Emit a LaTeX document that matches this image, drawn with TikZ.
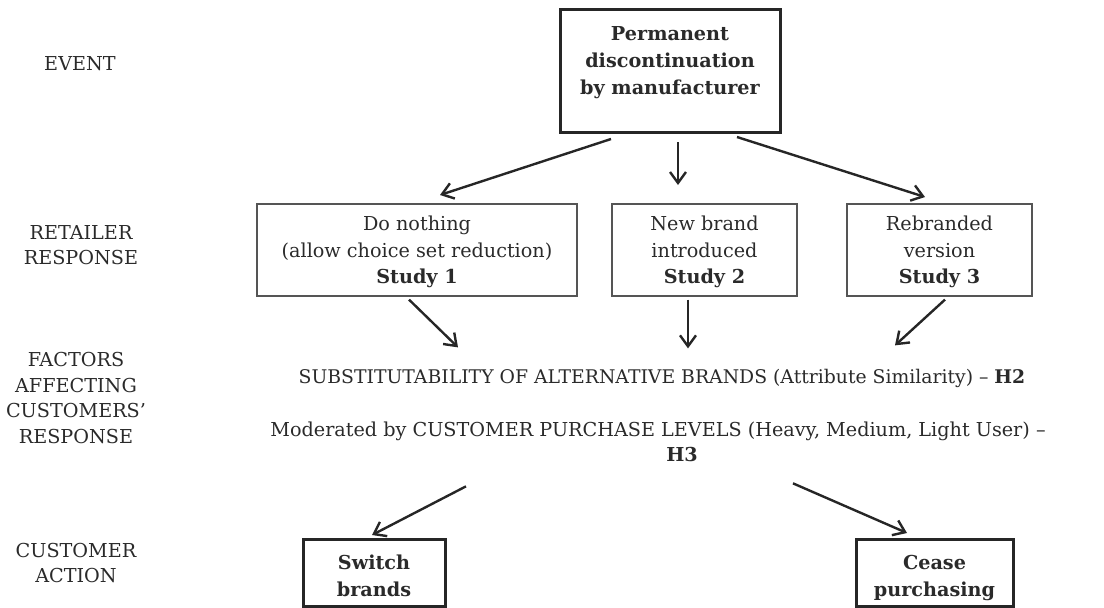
\documentclass[tikz,border=0pt]{standalone}
\usepackage{fontspec}
\setmainfont{DejaVu Serif}
\usetikzlibrary{arrows.meta,calc}
\definecolor{ink}{HTML}{2A2A2A}
\definecolor{framegray}{HTML}{555555}
\newcommand{\gapup}[1]{\rule{0pt}{#1}}
\newcommand{\gapdown}[1]{\rule[-#1]{0pt}{#1}}

\begin{document}
\begin{tikzpicture}[x=0.5pt,y=-0.5pt,
  txt/.style={text=ink,align=center,inner sep=0pt,font=\fontsize{9.6}{12.8}\selectfont},
  thickbox/.style={txt,draw=black!85,line width=1.5pt,font=\bfseries\fontsize{9.6}{13.5}\selectfont},
  thinbox/.style={txt,draw=framegray,line width=0.8pt,minimum width=92.5pt,font=\fontsize{9.6}{13.25}\selectfont},
  arr/.style={draw=black!85,line width=1.2pt,-{Straight Barb[length=5.5pt,width=8pt,line width=1.2pt]}}]
\useasboundingbox (0,0) rectangle (1104,607);

\node[txt] (lev) at (80,64) {EVENT};
\node[txt] (lret) at (81,245) {RETAILER\\RESPONSE};
\node[txt] (lfac) at (76,398) {FACTORS\\AFFECTING\\CUSTOMERS'\\RESPONSE};
\node[txt] (lact) at (76,563) {CUSTOMER\\ACTION};

\node[thickbox,anchor=north,minimum width=110pt] (event) at (670,8)
  {\gapup{15.5pt}Permanent\\discontinuation\\by manufacturer\gapdown{19pt}};

\node[thinbox,anchor=north,minimum width=160pt] (do) at (417,203)
  {\gapup{13.5pt}Do nothing\\(allow choice set reduction)\\\textbf{Study 1}\gapdown{6pt}};
\node[thinbox,anchor=north] (nb) at (704.5,203)
  {\gapup{13.5pt}New brand\\introduced\\\textbf{Study 2}\gapdown{6pt}};
\node[thinbox,anchor=north] (rb) at (939.5,203)
  {\gapup{13.5pt}Rebranded\\version\\\textbf{Study 3}\gapdown{6pt}};

\node[txt,font=\fontsize{9.4}{11}\selectfont] (sub) at (662,378)
  {SUBSTITUTABILITY OF ALTERNATIVE BRANDS (Attribute Similarity) -- \textbf{H2}};
\node[txt,font=\fontsize{9.6}{12.5}\selectfont] (mod) at (658,442)
  {Moderated by CUSTOMER PURCHASE LEVELS (Heavy, Medium, Light User) --\\\hspace*{24pt}\textbf{H3}};

\node[thickbox,anchor=north,minimum width=71pt] (sw) at (374,538)
  {\gapup{15pt}Switch\\brands\gapdown{5pt}};
\node[thickbox,anchor=north,minimum width=78.5pt] (cp) at (934.5,538)
  {\gapup{15pt}Cease\\purchasing\gapdown{5pt}};

\draw[arr] ($(event.south)+(-59,5)$) -- ($(do.north)+(23,-8)$);
\draw[arr] ($(event.south)+(8,8)$) -- ($(nb.north)+(-26.5,-18)$);
\draw[arr] ($(event.south)+(67,3)$) -- ($(rb.north)+(-14.5,-6)$);

\draw[arr] ($(do.south)+(-8,3)$) -- ($(sub.north)+(-204,-21)$);
\draw[arr] ($(nb.south)+(-16.5,3)$) -- ($(sub.north)+(26,-20)$);
\draw[arr] ($(rb.south)+(5.5,3)$) -- ($(sub.north)+(233,-23)$);

\draw[arr] ($(mod.south)+(-192,24)$) -- ($(sw.north)+(-2,-3)$);
\draw[arr] ($(mod.south)+(135,21)$) -- ($(cp.north)+(-27.5,-5)$);
\end{tikzpicture}
\end{document}
